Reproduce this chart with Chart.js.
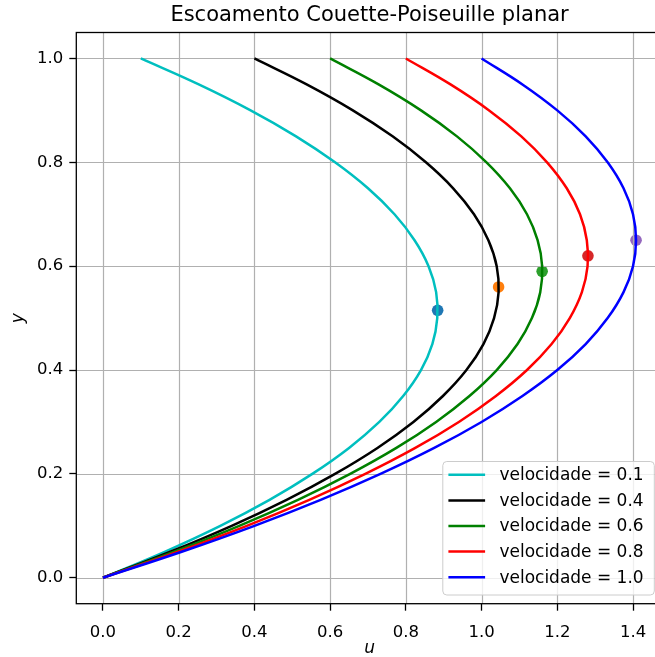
<!DOCTYPE html>
<html>
<head>
<meta charset="utf-8">
<script src="https://cdn.jsdelivr.net/npm/chart.js@4/dist/chart.umd.min.js"></script>
<style>
  html, body { margin: 0; padding: 0; background: #fff; width: 655px; height: 657px; overflow: hidden; }
  #wrap { position: absolute; left: 0; top: 0; width: 680px; height: 657px; }
</style>
</head>
<body>
<div id="wrap"><canvas id="chart" width="680" height="657"></canvas></div>
<script>
// Wall-normal positions sampled across the channel (0 = fixed wall, 1 = moving wall)
const yPoints = [0, 0.05, 0.10, 0.15, 0.20, 0.25, 0.30, 0.35, 0.40, 0.45, 0.50,
                 0.55, 0.60, 0.65, 0.70, 0.75, 0.80, 0.85, 0.90, 0.95, 1.00];

// Moving-wall velocities of each profile
const velocities = [0.1, 0.4, 0.6, 0.8, 1.0];

// Velocity profiles u(y), one per wall velocity
const uVel01 = [0, 0.163, 0.310, 0.440, 0.553, 0.650, 0.730, 0.793, 0.840, 0.870, 0.883,
                0.880, 0.860, 0.823, 0.770, 0.700, 0.613, 0.510, 0.390, 0.253, 0.100];
const uVel04 = [0, 0.178, 0.340, 0.485, 0.613, 0.725, 0.820, 0.898, 0.960, 1.005, 1.033,
                1.045, 1.040, 1.018, 0.980, 0.925, 0.853, 0.765, 0.660, 0.538, 0.400];
const uVel06 = [0, 0.188, 0.360, 0.515, 0.653, 0.775, 0.880, 0.968, 1.040, 1.095, 1.133,
                1.155, 1.160, 1.148, 1.120, 1.075, 1.013, 0.935, 0.840, 0.728, 0.600];
const uVel08 = [0, 0.198, 0.380, 0.545, 0.693, 0.825, 0.940, 1.038, 1.120, 1.185, 1.233,
                1.265, 1.280, 1.278, 1.260, 1.225, 1.173, 1.105, 1.020, 0.918, 0.800];
const uVel10 = [0, 0.208, 0.400, 0.575, 0.733, 0.875, 1.000, 1.108, 1.200, 1.275, 1.333,
                1.375, 1.400, 1.408, 1.400, 1.375, 1.333, 1.275, 1.200, 1.108, 1.000];

// Location of the maximum velocity of each profile
const uPeak = [0.884, 1.045, 1.160, 1.281, 1.408];
const yPeak = [0.515, 0.560, 0.590, 0.620, 0.650];

// Axis ticks
const xTicks = [0.0, 0.2, 0.4, 0.6, 0.8, 1.0, 1.2, 1.4];
const yTicks = [0.0, 0.2, 0.4, 0.6, 0.8, 1.0];

const profiles = [uVel01, uVel04, uVel06, uVel08, uVel10];
const lineColors = ['#00bfbf', '#000000', '#008000', '#ff0000', '#0000ff'];
const peakColors = ['#1f77b4', '#ff7f0e', '#2ca02c', '#d62728', '#9467bd'];

const FONT = "'DejaVu Sans', 'Liberation Sans', sans-serif";

const datasets = [];
// peak markers sit underneath the grid and the curves
velocities.forEach((v, i) => {
  datasets.push({
    label: 'max ' + v.toFixed(1),
    isPeak: true,
    data: [{ x: uPeak[i], y: yPeak[i] }],
    showLine: false,
    pointRadius: 5.8,
    pointHoverRadius: 5.8,
    pointBackgroundColor: peakColors[i],
    pointBorderWidth: 0,
    order: 20 + i
  });
});
// velocity profiles, later ones on top
velocities.forEach((v, i) => {
  datasets.push({
    label: 'velocidade = ' + v.toFixed(1),
    isCurve: true,
    data: yPoints.map((y, k) => ({ x: profiles[i][k], y: y })),
    showLine: true,
    borderColor: lineColors[i],
    backgroundColor: lineColors[i],
    borderWidth: 2.5,
    pointRadius: 0,
    pointHoverRadius: 0,
    tension: 0.4,
    fill: false,
    order: velocities.length - 1 - i
  });
});

// grid drawn above the markers but below the curves
const gridPlugin = {
  id: 'gridBetween',
  beforeDatasetsDraw(chart) { chart.$gridDone = false; },
  beforeDatasetDraw(chart, args) {
    const ds = chart.data.datasets[args.index];
    if (!ds.isCurve || chart.$gridDone) return;
    chart.$gridDone = true;
    const { ctx, chartArea: a, scales } = chart;
    ctx.save();
    ctx.beginPath();
    ctx.rect(a.left, a.top, a.right - a.left, a.bottom - a.top);
    ctx.clip();
    ctx.strokeStyle = '#b0b0b0';
    ctx.lineWidth = 1.2;
    xTicks.forEach(t => {
      const px = Math.round(scales.x.getPixelForValue(t)) + 0.5;
      ctx.beginPath(); ctx.moveTo(px, a.top); ctx.lineTo(px, a.bottom); ctx.stroke();
    });
    yTicks.forEach(t => {
      const py = Math.round(scales.y.getPixelForValue(t)) + 0.5;
      ctx.beginPath(); ctx.moveTo(a.left, py); ctx.lineTo(a.right, py); ctx.stroke();
    });
    ctx.restore();
  }
};

// axes frame and the legend box in the lower right corner
const framePlugin = {
  id: 'frameLegend',
  afterDatasetsDraw(chart) {
    const { ctx, chartArea: a } = chart;
    ctx.save();
    ctx.strokeStyle = '#000';
    ctx.lineWidth = 1.3;
    ctx.strokeRect(a.left, a.top, a.right - a.left, a.bottom - a.top);

    const curves = chart.data.datasets.filter(d => d.isCurve);
    const boxRight = a.right - 8.5, boxBottom = a.bottom - 8.7;
    const boxW = 211.5, rowH = 25.6;
    const boxH = 133.5;
    const bx = boxRight - boxW, by = boxBottom - boxH;
    ctx.beginPath();
    ctx.roundRect(bx, by, boxW, boxH, 4);
    ctx.fillStyle = 'rgba(255,255,255,0.8)';
    ctx.fill();
    ctx.strokeStyle = '#cccccc';
    ctx.lineWidth = 1;
    ctx.stroke();

    ctx.font = '17px ' + FONT;
    ctx.textBaseline = 'middle';
    ctx.textAlign = 'left';
    curves.forEach((d, i) => {
      const cy = by + 13.3 + i * rowH;
      ctx.strokeStyle = d.borderColor;
      ctx.lineWidth = 2.5;
      ctx.beginPath();
      ctx.moveTo(bx + 5.6, cy);
      ctx.lineTo(bx + 42.3, cy);
      ctx.stroke();
      ctx.fillStyle = '#000';
      ctx.fillText(d.label, bx + 56.6, cy + 1);
    });
    ctx.restore();
  }
};

new Chart(document.getElementById('chart'), {
  type: 'scatter',
  data: { datasets },
  plugins: [gridPlugin, framePlugin],
  options: {
    responsive: false,
    animation: false,
    devicePixelRatio: 1,
    layout: { padding: { left: 0, right: 17.2, top: 0, bottom: 0 } },
    plugins: {
      legend: { display: false },
      tooltip: { enabled: false },
      title: {
        display: true,
        fullSize: false,
        text: 'Escoamento Couette-Poiseuille planar',
        color: '#000',
        font: { family: FONT, size: 21, weight: 'normal', lineHeight: 1.2 },
        padding: { top: 3, bottom: 4.3 }
      }
    },
    scales: {
      x: {
        type: 'linear',
        min: -0.0704,
        max: 1.4787,
        afterBuildTicks: s => { s.ticks = xTicks.map(v => ({ value: v })); },
        afterFit: s => { s.height = 53.3; },
        grid: { display: true, drawOnChartArea: false, drawTicks: true, tickLength: 7, tickWidth: 1.3, tickColor: '#000' },
        border: { display: false },
        ticks: {
          color: '#000',
          padding: 12,
          maxRotation: 0,
          autoSkip: false,
          font: { family: FONT, size: 16.5 },
          callback: v => Number(v).toFixed(1)
        },
        title: {
          display: true,
          text: 'u',
          color: '#000',
          font: { family: FONT, size: 17, style: 'italic' },
          padding: { top: 0, bottom: -2 }
        }
      },
      y: {
        type: 'linear',
        min: -0.05,
        max: 1.05,
        afterBuildTicks: s => { s.ticks = yTicks.map(v => ({ value: v })); },
        afterFit: s => { s.width = 76.3; },
        grid: { display: true, drawOnChartArea: false, drawTicks: true, tickLength: 7, tickWidth: 1.3, tickColor: '#000' },
        border: { display: false },
        ticks: {
          color: '#000',
          padding: 6,
          autoSkip: false,
          font: { family: FONT, size: 16.5 },
          callback: v => Number(v).toFixed(1)
        },
        title: {
          display: true,
          text: 'y',
          color: '#000',
          font: { family: FONT, size: 17, style: 'italic' },
          padding: { top: 8, bottom: 0 }
        }
      }
    }
  }
});
</script>
</body>
</html>
